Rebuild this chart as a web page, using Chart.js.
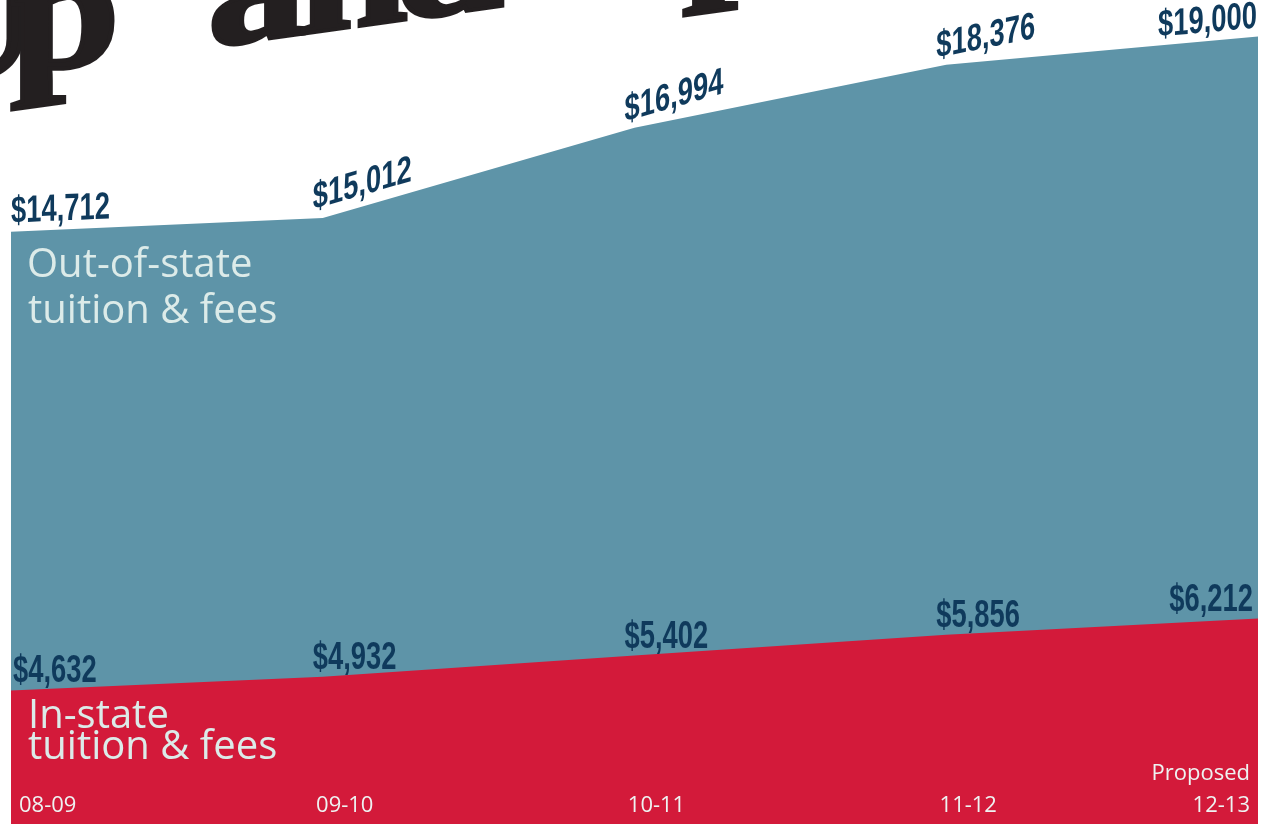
<!DOCTYPE html>
<html>
<head>
<meta charset="utf-8">
<script src="https://cdn.jsdelivr.net/npm/chart.js@4/dist/chart.umd.min.js"></script>
<style>
  html, body { margin: 0; padding: 0; background: #fff; }
  #wrap { width: 1277px; height: 824px; position: relative; }
</style>
</head>
<body>
<div id="wrap"><canvas id="tuition"></canvas></div>
<script>
// dados
const categories = ['08-09', '09-10', '10-11', '11-12', '12-13'];
const categoryNotes = ['', '', '', '', 'Proposed'];
const inState = [4632, 4932, 5402, 5856, 6212];
const outOfState = [14712, 15012, 16994, 18376, 19000];
const titleText = 'Up and up';

const BLUE = '#5e94a8';
const RED = '#d31a3a';
const NAVY = '#0f3a5c';
const PALE = '#dcebe9';

function money(v){
  return '$' + v.toLocaleString('en-US');
}

// y da linha numa posição x qualquer (interpolação entre os pontos já desenhados)
function lineY(pts, x){
  if (x <= pts[0].x) {
    const a = pts[0], b = pts[1];
    return a.y + (b.y - a.y) * (x - a.x) / (b.x - a.x);
  }
  for (let i = 0; i < pts.length - 1; i++) {
    const a = pts[i], b = pts[i + 1];
    if (x <= b.x) return a.y + (b.y - a.y) * (x - a.x) / (b.x - a.x);
  }
  return pts[pts.length - 1].y;
}

function segTan(pts, j){
  if (j < 0 || j >= pts.length - 1) return 0;
  return (pts[j].y - pts[j + 1].y) / (pts[j + 1].x - pts[j].x);
}

// texto "inclinado": letras em pé, linha de base seguindo a curva
function drawMoney(ctx, text, x, y, tan, align){
  ctx.save();
  ctx.translate(x, y);
  ctx.transform(1, -tan, 0, 1, 0, 0);
  ctx.scale(0.72, 1);
  ctx.font = 'bold 38px "Liberation Sans", Arial, sans-serif';
  ctx.fillStyle = NAVY;
  ctx.textAlign = align;
  ctx.textBaseline = 'alphabetic';
  ctx.fillText(text, 0, 0);
  ctx.restore();
}

const textPlugin = {
  id: 'tuitionText',
  afterDraw(chart){
    const ctx = chart.ctx;
    const inPts = chart.getDatasetMeta(0).data.map(p => ({ x: p.x, y: p.y }));
    const outPts = chart.getDatasetMeta(1).data.map(p => ({ x: p.x, y: p.y }));
    const last = categories.length - 1;

    // título cortado no topo (letras largas, espaçamento fixo)
    ctx.save();
    ctx.translate(0, 67 + 0.14 * 65);
    ctx.transform(1, -0.14, 0, 1, 0, 0);
    ctx.font = 'bold 165px "Liberation Serif", serif';
    ctx.fillStyle = '#231f20';
    ctx.strokeStyle = '#231f20';
    ctx.lineWidth = 4;
    ctx.textAlign = 'center';
    ctx.textBaseline = 'alphabetic';
    for (let i = 0; i < titleText.length; i++) {
      ctx.save();
      ctx.translate(-31 + i * 96, 0);
      ctx.scale(1.2, 1);
      ctx.fillText(titleText[i], 0, 0);
      ctx.strokeText(titleText[i], 0, 0);
      ctx.restore();
    }
    ctx.restore();

    // valores fora do estado
    outPts.forEach((p, i) => {
      const tan = Math.max(segTan(outPts, i - 1), segTan(outPts, i));
      let x0 = p.x - 10, align = 'left';
      if (i === 0) x0 = p.x;
      if (i === last) { x0 = p.x - 1; align = 'right'; }
      drawMoney(ctx, money(outOfState[i]), x0, lineY(outPts, x0) - 9, tan, align);
    });

    // valores no estado
    inPts.forEach((p, i) => {
      let x0 = p.x - 10, align = 'left';
      if (i === 0) x0 = p.x + 2;
      if (i === last) { x0 = p.x - 5; align = 'right'; }
      drawMoney(ctx, money(inState[i]), x0, lineY(inPts, x0) - 8, 0, align);
    });

    // nomes das áreas
    ctx.save();
    ctx.font = '40px "Open Sans", sans-serif';
    ctx.fillStyle = PALE;
    ctx.textAlign = 'left';
    ctx.textBaseline = 'alphabetic';
    ctx.fillText('Out-of-state', 27, 277);
    ctx.fillText('tuition & fees', 28, 323);
    ctx.fillText('In-state', 28, 728);
    ctx.fillText('tuition & fees', 28, 759);
    ctx.restore();

    // rótulos do eixo x, dentro da área vermelha
    ctx.save();
    ctx.font = '22px "Open Sans", sans-serif';
    ctx.fillStyle = '#eef3f2';
    ctx.textBaseline = 'alphabetic';
    const xs = chart.scales.x;
    categories.forEach((c, i) => {
      const px = xs.getPixelForValue(i);
      let x = px + 22;
      ctx.textAlign = 'center';
      if (i === 0) { x = px + 8; ctx.textAlign = 'left'; }
      if (i === last) { x = px - 8; ctx.textAlign = 'right'; }
      ctx.fillText(c, x, 812);
      if (categoryNotes[i]) ctx.fillText(categoryNotes[i], x, 780);
    });
    ctx.restore();
  }
};

const chart = new Chart(document.getElementById('tuition'), {
  type: 'line',
  data: {
    labels: categories,
    datasets: [
      { label: 'In-state tuition & fees', data: inState, backgroundColor: RED, borderWidth: 0, pointRadius: 0, fill: 'start', tension: 0 },
      { label: 'Out-of-state tuition & fees', data: outOfState, backgroundColor: BLUE, borderWidth: 0, pointRadius: 0, fill: 'start', tension: 0 }
    ]
  },
  options: {
    responsive: true,
    maintainAspectRatio: false,
    devicePixelRatio: 1,
    animation: false,
    layout: { padding: { left: 11, right: 19, top: 0, bottom: 0 } },
    plugins: { legend: { display: false }, tooltip: { enabled: false } },
    scales: {
      x: { display: false },
      y: { display: false, min: 1700, max: 19800 }
    }
  },
  plugins: [textPlugin]
});
</script>
</body>
</html>
